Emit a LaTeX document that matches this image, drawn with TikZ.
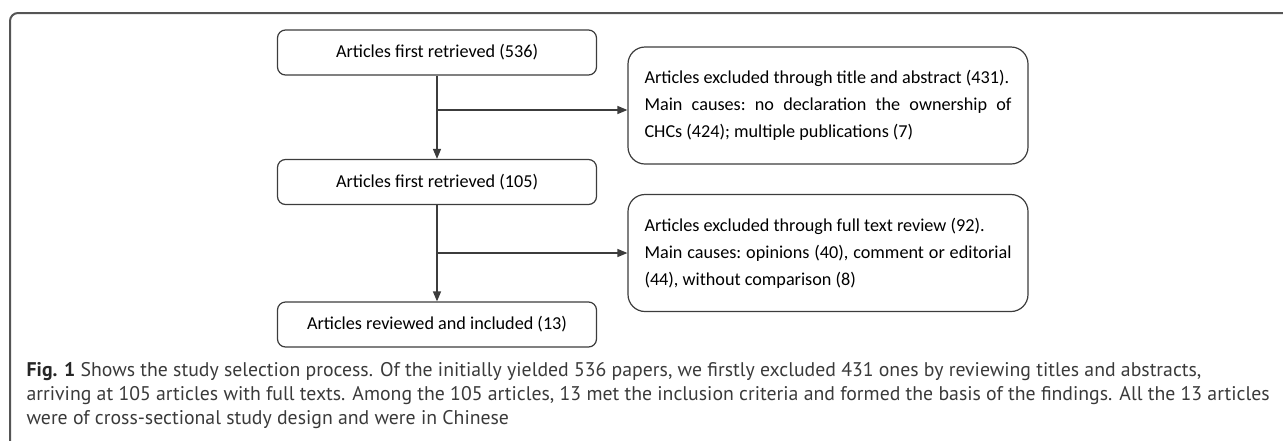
\documentclass[tikz,border=0pt]{standalone}
\usepackage{fontspec}
\setmainfont{Carlito}
\newfontfamily\capfont{PT Sans}
\usetikzlibrary{arrows.meta}

\definecolor{linegray}{HTML}{3C3C3C}
\definecolor{framegray}{HTML}{555555}
\definecolor{capgray}{HTML}{3A3A3A}

% font sizes taken from the widths of one line each
\newlength\capw
\newlength\boxw
\settowidth\capw{\capfont\fontsize{10}{12}\selectfont arriving at 105 articles with full texts. Among the 105 articles, 13 met the inclusion criteria and formed the basis of the findings. All the 13 articles}
\settowidth\boxw{\fontsize{10}{12}\selectfont Articles first retrieved (536)}
\pgfmathsetmacro\capsize{10*1243/\capw}
\pgfmathsetmacro\boxsize{10*202/\boxw}

\tikzset{
  stepbox/.style={draw=linegray, line width=1.2pt, rounded corners=8pt,
    minimum width=319pt, minimum height=45pt, inner sep=0pt,
    font=\fontsize{\boxsize}{27}\selectfont},
  exbox/.style={draw=linegray, line width=1.2pt, rounded corners=17pt,
    text width=367pt, minimum height=117pt, inner xsep=16.5pt, inner ysep=0pt,
    align=justify, font=\fontsize{\boxsize}{27}\selectfont\frenchspacing}
}

\begin{document}
\begin{tikzpicture}[x=1pt, y=-1pt, ->, >={Triangle[length=10pt,width=8pt]}, line width=1.3pt, draw=linegray]
  \useasboundingbox (0,0) rectangle (1283,440);
  % outer frame
  \draw[-, framegray, line width=2pt, rounded corners=8pt] (10,445) -- (10,13) -- (1290,13);

  \node[stepbox] (first) at (437,52.5) {Articles first retrieved (536)};
  \node[stepbox] (second) at (437,182) {Articles first retrieved (105)};
  \node[stepbox] (final) at (437,324.5) {Articles reviewed and included (13)};

  \node[exbox] (exA) at (828,105.5) {Articles excluded through title and abstract (431).\par
    Main causes: no declaration the ownership of\linebreak CHCs (424); multiple publications (7)\par\vspace{9pt}};
  \node[exbox] (exB) at (828,253) {Articles excluded through full text review (92).\par
    Main causes: opinions (40), comment or editorial\linebreak (44), without comparison (8)\par\vspace{9pt}};

  \coordinate (jA) at (437,110);
  \coordinate (jB) at (437,253);

  \draw[->] (first) -- (second);
  \draw[->] (second) -- (final);
  \draw[->] (jA) -- (jA -| exA.west);
  \draw[->] (jB) -- (jB -| exB.west);

  % caption
  \node[anchor=north west, inner sep=0pt, align=left, text=capgray,
    font=\capfont\fontsize{\capsize}{24}\selectfont] (caption) at (26,362)
    {{\bfseries\color{black!85}Fig. 1} Shows the study selection process. Of the initially yielded 536 papers, we firstly excluded 431 ones by reviewing titles and abstracts,\\
     arriving at 105 articles with full texts. Among the 105 articles, 13 met the inclusion criteria and formed the basis of the findings. All the 13 articles\\
     were of cross-sectional study design and were in Chinese};
\end{tikzpicture}
\end{document}
